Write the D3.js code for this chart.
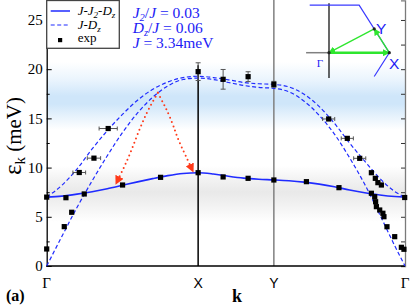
<!DOCTYPE html>
<html>
<head>
<meta charset="utf-8">
<script src="https://cdn.jsdelivr.net/npm/d3@7"></script>
<style>
  body { margin: 0; background: #fff; }
  svg { display: block; }
  .serif { font-family: "Liberation Serif", "Times New Roman", Times, serif; }
  .sans { font-family: "Liberation Sans", Arial, Helvetica, sans-serif; }
</style>
</head>
<body>
<script>
let w = 411;
let h = 305;

// k path: Γ - X - Y - Γ  (lengths 1 : 0.5 : 0.866)
let kTicks = [0, 1, 1.5, 2.366];
let kLabels = ["Γ", "X", "Y", "Γ"];
let eTicks = [0, 5, 10, 15, 20, 25];
let eMinor = [2.5, 7.5, 12.5, 17.5, 22.5];

let kGrid = [0, 0.1, 0.2, 0.3, 0.4, 0.5, 0.6, 0.7, 0.8, 0.9, 1.0, 1.1, 1.2,
             1.3, 1.4, 1.5, 1.6, 1.7, 1.8, 1.9, 2.0, 2.1, 2.2, 2.3, 2.366];
// J-J2-Dz model, lower branch
let solidE = [7.0, 7.1, 7.3, 7.55, 7.85, 8.2, 8.55, 8.88, 9.18, 9.4, 9.48, 9.35, 9.12,
              8.93, 8.82, 8.75, 8.66, 8.52, 8.32, 8.05, 7.72, 7.45, 7.22, 7.06, 7.0];
// J-Dz model, two branches
let dashGapE = [7.0, 8.2, 9.85, 11.9, 13.75, 15.4, 16.85, 17.95, 18.7, 19.15, 19.28, 19.15, 18.92,
                18.65, 18.52, 18.45, 18.2, 17.45, 16.2, 14.5, 12.5, 10.65, 8.9, 7.55, 7.0];
let dashGaplessE = [0, 3.0, 5.95, 8.65, 11.2, 13.55, 15.55, 17.15, 18.3, 18.95, 19.1, 18.95, 18.65,
                    18.35, 18.15, 18.05, 17.7, 16.75, 15.3, 13.4, 11.0, 8.3, 5.2, 2.0, 0];

// experiment
let expK = [0, 0.116, 0.165, 0, 0.127, 0.248, 0.215, 0.312, 0.406, 0.501, 0.752,
            1.0, 1.0, 1.165, 1.165, 1.33, 1.33, 1.5, 1.5,
            1.715, 1.862, 1.93, 1.985, 2.067, 2.144, 2.17, 2.187, 2.21,
            2.144, 2.166, 2.172, 2.177, 2.199, 2.22, 2.227, 2.247, 2.298, 2.342, 2.359, 2.364];
let expE = [1.73, 4.0, 5.46, 7.0, 6.94, 7.32, 9.5, 10.96, 13.97, 8.23, 9.01,
            9.48, 19.75, 9.05, 18.97, 8.91, 19.24, 8.74, 18.46,
            8.57, 14.94, 7.96, 12.97, 10.94, 9.48, 8.91, 8.47, 8.23,
            7.39, 7.04, 6.53, 6.03, 5.69, 5.36, 5.01, 3.99, 2.98, 1.9, 1.7, 6.96];
let expErrK = [0, 0, 0, 0, 0, 0, 0.042, 0.044, 0.06, 0, 0,
               0, 0, 0, 0, 0, 0, 0, 0,
               0, 0.04, 0, 0.04, 0.04, 0, 0, 0, 0,
               0, 0, 0, 0, 0, 0, 0, 0, 0, 0, 0, 0];
let expErrE = [0, 0, 0, 0, 0, 0, 0, 0, 0, 0, 0,
               0, 0.9, 0, 1.0, 0, 0.5, 0, 0.3,
               0, 0, 0, 0, 0, 0, 0, 0, 0,
               0, 0, 0, 0, 0, 0, 0, 0, 0, 0, 0, 0];

// red dotted arrows (magnon decay sketch)
let decayLeft = [[0.734, 17.6], [0.66, 15.52], [0.594, 13.14], [0.532, 10.77], [0.457, 8.33]];
let decayRight = [[0.734, 17.6], [0.802, 15.52], [0.846, 13.82], [0.879, 12.5], [0.967, 9.58]];

let paramLines = [["J", "2", "/J = 0.03"], ["D", "z", "/J = 0.06"], ["J", "", " = 3.34meV"]];

let x = d3.scaleLinear().domain([0, 2.366]).range([46.7, 405]);
let y = d3.scaleLinear().domain([0, 27]).range([266, 0.3]);

let blue = "#1f2bff";
let textBlue = "#1c1cf5";

let svg = d3.select("body")
            .append("svg")
            .attr("width", w)
            .attr("height", h);

let defs = svg.append("defs");
let grad = defs.append("linearGradient")
               .attr("id", "bg")
               .attr("gradientUnits", "userSpaceOnUse")
               .attr("x1", 0).attr("x2", 0)
               .attr("y1", 0).attr("y2", 266);
[[0, "#ffffff"], [62, "#ffffff"], [80, "#eaf4fd"], [96, "#cfe6fa"], [104, "#cfe6fa"],
 [116, "#e6f2fc"], [130, "#ffffff"], [166, "#ffffff"], [180, "#f2f2f2"], [192, "#e9e9e9"],
 [204, "#f1f1f1"], [222, "#ffffff"], [266, "#ffffff"]].forEach(function(s) {
    grad.append("stop").attr("offset", s[0] / 266).attr("stop-color", s[1]);
});

function arrowMarker(id, color, size) {
    defs.append("marker")
        .attr("id", id)
        .attr("viewBox", "0 0 10 10")
        .attr("refX", 9).attr("refY", 5)
        .attr("markerUnits", "userSpaceOnUse")
        .attr("markerWidth", size).attr("markerHeight", size)
        .attr("orient", "auto")
        .append("path")
        .attr("d", "M0,0 L10,5 L0,10 Z")
        .attr("fill", color);
}
arrowMarker("redHead", "#ff3a1a", 9);
arrowMarker("greenHead", "#2ee62e", 7);

svg.append("rect")
   .attr("x", x(0)).attr("y", 0)
   .attr("width", x(2.366) - x(0))
   .attr("height", y(0))
   .attr("fill", "url(#bg)");

// symmetry point verticals
svg.append("line")
   .attr("x1", x(1.5)).attr("x2", x(1.5))
   .attr("y1", y(0)).attr("y2", 0)
   .attr("stroke", "#808080").attr("stroke-width", 1.5);
svg.append("line")
   .attr("x1", x(1)).attr("x2", x(1))
   .attr("y1", y(0)).attr("y2", y(20.4))
   .attr("stroke", "#000").attr("stroke-width", 1.5);

// axes
svg.append("g")
   .attr("transform", "translate(" + x(0) + ",0)")
   .call(d3.axisLeft(y).tickValues(eTicks).tickSizeInner(-5).tickSizeOuter(0).tickPadding(4))
   .call(function(g) {
       g.attr("font-family", null).attr("font-size", null);
       g.select(".domain").attr("stroke-width", 1.3);
       g.selectAll("text").attr("class", "serif").style("font-size", "15px").attr("fill", "#000");
   });
svg.append("g")
   .attr("transform", "translate(" + x(0) + ",0)")
   .call(d3.axisLeft(y).tickValues(eMinor).tickSize(-3).tickFormat(""))
   .call(function(g) { g.select(".domain").remove(); });
svg.append("g")
   .attr("transform", "translate(" + x(2.366) + ",0)")
   .call(d3.axisRight(y).tickValues(eTicks.concat(eMinor)).tickSize(-4).tickFormat(""))
   .call(function(g) {
       g.select(".domain").attr("stroke", "#7a7a7a").attr("stroke-width", 1.3);
       g.selectAll(".tick line").attr("stroke", "#333");
   });
svg.append("line")
   .attr("x1", x(0) - 0.6).attr("x2", x(2.366))
   .attr("y1", y(0)).attr("y2", y(0))
   .attr("stroke", "#000").attr("stroke-width", 1.4);

svg.selectAll("text.kLabel")
   .data(kTicks)
   .enter()
   .append("text")
   .attr("class", function(d, i) { return kLabels[i] === "Γ" ? "serif" : "sans"; })
   .attr("x", function(d) { return x(d); })
   .attr("y", 287.5)
   .attr("text-anchor", "middle")
   .style("font-size", function(d, i) { return kLabels[i] === "Γ" ? "15px" : "14px"; })
   .text(function(d, i) { return kLabels[i]; });

// model curves
let line = d3.line()
             .x(function(d, i) { return x(kGrid[i]); })
             .y(function(d) { return y(d); })
             .curve(d3.curveMonotoneX);
[dashGapE, dashGaplessE].forEach(function(arr) {
    svg.append("path")
       .attr("d", line(arr))
       .attr("fill", "none")
       .attr("stroke", blue)
       .attr("stroke-width", 1.2)
       .attr("stroke-dasharray", "4,2.5");
});
svg.append("path")
   .attr("d", line(solidE))
   .attr("fill", "none")
   .attr("stroke", blue)
   .attr("stroke-width", 1.6);

// error bars
let bars = svg.append("g").attr("stroke", "#555").attr("stroke-width", 1);
expK.forEach(function(k, i) {
    let cx = x(k), cy = y(expE[i]);
    if (expErrK[i] > 0) {
        let x0 = x(k - expErrK[i]), x1 = x(k + expErrK[i]);
        bars.append("line").attr("x1", x0).attr("x2", x1).attr("y1", cy).attr("y2", cy);
        bars.append("line").attr("x1", x0).attr("x2", x0).attr("y1", cy - 2).attr("y2", cy + 2);
        bars.append("line").attr("x1", x1).attr("x2", x1).attr("y1", cy - 2).attr("y2", cy + 2);
    }
    if (expErrE[i] > 0) {
        let y0 = y(expE[i] - expErrE[i]), y1 = y(expE[i] + expErrE[i]);
        bars.append("line").attr("x1", cx).attr("x2", cx).attr("y1", y0).attr("y2", y1);
        bars.append("line").attr("x1", cx - 2.5).attr("x2", cx + 2.5).attr("y1", y0).attr("y2", y0);
        bars.append("line").attr("x1", cx - 2.5).attr("x2", cx + 2.5).attr("y1", y1).attr("y2", y1);
    }
});
svg.selectAll("rect.exp")
   .data(expK)
   .enter()
   .append("rect")
   .attr("class", "exp")
   .attr("x", function(d) { return x(d) - 2.6; })
   .attr("y", function(d, i) { return y(expE[i]) - 2.6; })
   .attr("width", 5.2)
   .attr("height", 5.2)
   .attr("fill", "#000");

// decay arrows
let dline = d3.line()
              .x(function(d) { return x(d[0]); })
              .y(function(d) { return y(d[1]); })
              .curve(d3.curveNatural);
[decayLeft, decayRight].forEach(function(arr) {
    svg.append("path")
       .attr("d", dline(arr))
       .attr("fill", "none")
       .attr("stroke", "#ff3a1a")
       .attr("stroke-width", 2)
       .attr("stroke-linecap", "round")
       .attr("stroke-dasharray", "0,4.6")
       .attr("marker-end", "url(#redHead)");
});

// legend
let leg = svg.append("g");
leg.append("rect")
   .attr("x", x(0)).attr("y", 0.5)
   .attr("width", 72.6).attr("height", 47.8)
   .attr("fill", "#fff")
   .attr("stroke", "#444").attr("stroke-width", 1.3);
leg.append("line").attr("x1", 50.7).attr("x2", 70).attr("y1", 11).attr("y2", 11)
   .attr("stroke", blue).attr("stroke-width", 1.5);
leg.append("line").attr("x1", 50.7).attr("x2", 70).attr("y1", 25).attr("y2", 25)
   .attr("stroke", blue).attr("stroke-width", 1.2).attr("stroke-dasharray", "4,2.5");
leg.append("rect").attr("x", 58).attr("y", 38).attr("width", 4.2).attr("height", 4.2).attr("fill", "#000");
let legT1 = leg.append("text").attr("class", "serif").attr("x", 77.7).attr("y", 14.5)
               .style("font-size", "13px").style("font-style", "italic");
legT1.append("tspan").text("J-J");
legT1.append("tspan").style("font-size", "9px").attr("dy", 3).text("2");
legT1.append("tspan").attr("dy", -3).text("-D");
legT1.append("tspan").style("font-size", "9px").attr("dy", 3).text("z");
let legT2 = leg.append("text").attr("class", "serif").attr("x", 77.7).attr("y", 28.5)
               .style("font-size", "13px").style("font-style", "italic");
legT2.append("tspan").text("J-D");
legT2.append("tspan").style("font-size", "9px").attr("dy", 3).text("z");
leg.append("text").attr("class", "serif").attr("x", 77.7).attr("y", 41.5)
   .style("font-size", "13px").text("exp");

// parameters
paramLines.forEach(function(p, i) {
    let t = svg.append("text")
               .attr("class", "serif")
               .attr("x", 132.7).attr("y", 18 + i * 15)
               .style("font-size", "15.5px")
               .attr("fill", textBlue);
    t.append("tspan").style("font-style", "italic").text(p[0]);
    if (p[1]) {
        t.append("tspan").style("font-style", "italic").style("font-size", "10.5px").attr("dy", 3).text(p[1]);
        t.append("tspan").attr("dy", -3).text("/");
        t.append("tspan").style("font-style", "italic").text("J");
        t.append("tspan").text(p[2].slice(2));
    } else {
        t.append("tspan").text(p[2]);
    }
});

// axis titles
let yl = svg.append("text")
            .attr("class", "serif")
            .attr("transform", "translate(21,136) rotate(-90)")
            .attr("text-anchor", "middle")
            .style("font-size", "21px");
yl.append("tspan").style("font-size", "25px").text("ε");
yl.append("tspan").style("font-size", "15px").attr("dy", 4).text("k");
yl.append("tspan").attr("dy", -4).text(" (meV)");
svg.append("text")
   .attr("class", "serif")
   .attr("x", 237).attr("y", 302)
   .attr("text-anchor", "middle")
   .style("font-weight", "bold").style("font-size", "18px")
   .text("k");
svg.append("text")
   .attr("class", "serif")
   .attr("x", 6).attr("y", 301)
   .style("font-weight", "bold").style("font-size", "16px")
   .text("(a)");

// Brillouin zone inset
let ix = d3.scaleLinear().domain([0, 1]).range([329, 389.3]);
let iy = d3.scaleLinear().domain([0, 1]).range([52.7, -2.3]);
let bzEdge = [[-0.32, 0.866], [0.5, 0.866], [1, 0], [0.75, -0.433]];
let gPt = [0, 0], xPt = [1, 0], yPt = [0.75, 0.433];
let ins = svg.append("g");
let iline = d3.line().x(function(d) { return ix(d[0]); }).y(function(d) { return iy(d[1]); });
ins.append("path").attr("d", iline([[-0.38, 0], gPt]))
   .attr("stroke", "#808080").attr("stroke-width", 1.5).attr("fill", "none");
ins.append("path").attr("d", iline([[0, 0.9], [0, -0.46]]))
   .attr("stroke", "#000").attr("stroke-width", 1.2).attr("fill", "none");
ins.append("path").attr("d", iline(bzEdge))
   .attr("stroke", "#3a3aff").attr("stroke-width", 1.2).attr("fill", "none");
[[gPt, xPt, 2.4], [xPt, yPt, 1.3], [yPt, gPt, 1.3]].forEach(function(a) {
    ins.append("path").attr("d", iline([a[0], a[1]]))
       .attr("stroke", "#2ee62e").attr("stroke-width", a[2]).attr("fill", "none")
       .attr("marker-end", "url(#greenHead)");
});
[gPt, xPt, yPt].forEach(function(p) {
    ins.append("circle").attr("cx", ix(p[0])).attr("cy", iy(p[1])).attr("r", 1.6).attr("fill", "#222");
});
ins.append("text").attr("class", "serif").attr("x", 320).attr("y", 67).attr("text-anchor", "middle")
   .style("font-size", "11px").attr("fill", textBlue).text("Γ");
ins.append("text").attr("class", "sans").attr("x", 376).attr("y", 33.5)
   .style("font-size", "15.5px").attr("fill", textBlue).text("Y");
ins.append("text").attr("class", "sans").attr("x", 389).attr("y", 69)
   .style("font-size", "15.5px").attr("fill", textBlue).text("X");
</script>
</body>
</html>
